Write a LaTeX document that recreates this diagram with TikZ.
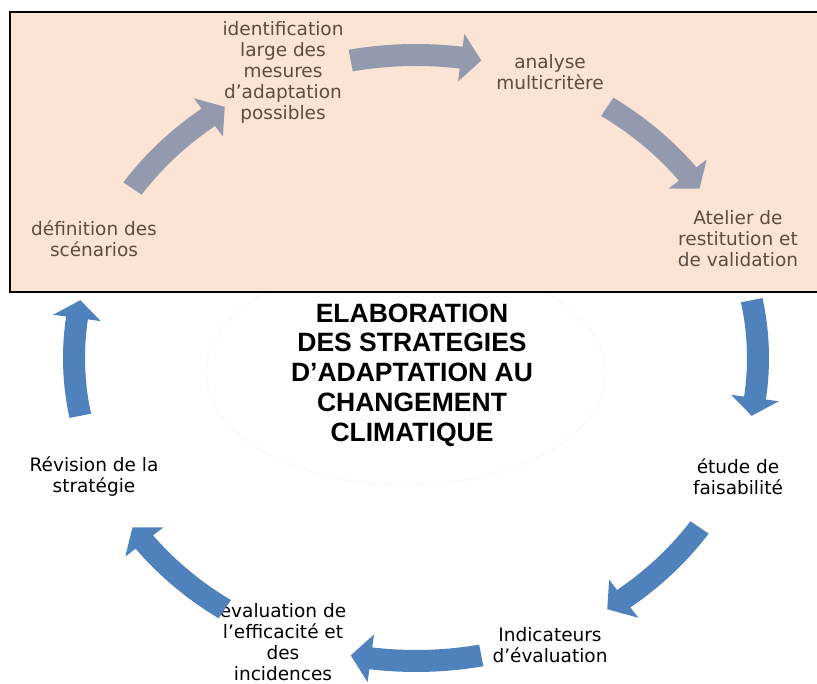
\documentclass[tikz,border=0pt]{standalone}
\usepackage{fontspec}
\setmainfont{DejaVu Sans}
\newfontfamily\titlefont{Liberation Sans}
\usepackage{tikz}

\definecolor{peach}{RGB}{252,228,212}
\definecolor{grayarr}{RGB}{148,154,173}
\definecolor{bluearr}{RGB}{79,129,189}
\definecolor{browntxt}{RGB}{92,76,66}

\begin{document}
\begin{tikzpicture}[x=1pt, y=1pt,
        step text/.style={align=center, inner sep=0pt, font=\fontsize{18.5}{21}\selectfont}]
    \useasboundingbox (0,0) rectangle (817,684);

    % faint ring behind the title
    \draw[black!4, line width=0.8pt] (406,311) ellipse[x radius=200, y radius=112];

    % upper panel
    \draw[fill=peach, line width=2pt] (817,672) -- (10,672) -- (10,392) -- (817,392);

    \coordinate (ctr) at (416,326);

    % steps
    \node[step text, text=browntxt] (ident) at (283,612) {identification\\large des\\mesures\\d’adaptation\\possibles};
    \node[step text, text=browntxt] (analyse) at (550,612) {analyse\\multicritère};
    \node[step text, text=browntxt] (atelier) at (738,445) {Atelier de\\restitution et\\de validation};
    \node[step text] (etude) at (738,207) {étude de\\faisabilité};
    \node[step text] (indic) at (550,39) {Indicateurs\\d’évaluation};
    \node[step text] (evalu) at (283,42) {évaluation de\\l’efficacité et\\des\\incidences};
    \node[step text] (revis) at (94,207) {Révision de la\\stratégie};
    \node[step text, text=browntxt] (defin) at (94,445) {définition des\\scénarios};

    \node[align=center, inner sep=0pt, font=\titlefont\bfseries\fontsize{26.5}{29.7}\selectfont] (title) at (412,309)
        {ELABORATION\\DES STRATEGIES\\D’ADAPTATION AU\\CHANGEMENT\\CLIMATIQUE};

    % curved block arrows between the steps
    \foreach \ang/\col in {135/grayarr, 90/grayarr, 45/grayarr, 0/bluearr,
                           -45/bluearr, -90/bluearr, -135/bluearr, 180/bluearr} {
        \pgfmathsetmacro{\sa}{\ang+11}
        \pgfmathsetmacro{\ea}{\ang-11}
        \pgfmathsetmacro{\hb}{\ang-7.6}
        \fill[\col] (ctr) ++(\sa:353pt and 314pt)
            arc[start angle=\sa, end angle=\hb, x radius=353pt, y radius=314pt]
            -- ([shift={(\hb:366pt and 327pt)}]ctr)
            -- ([shift={(\ea:342pt and 303pt)}]ctr)
            -- ([shift={(\hb:318pt and 279pt)}]ctr)
            -- ([shift={(\hb:331pt and 292pt)}]ctr)
            arc[start angle=\hb, end angle=\sa, x radius=331pt, y radius=292pt] -- cycle;
    }
\end{tikzpicture}
\end{document}
